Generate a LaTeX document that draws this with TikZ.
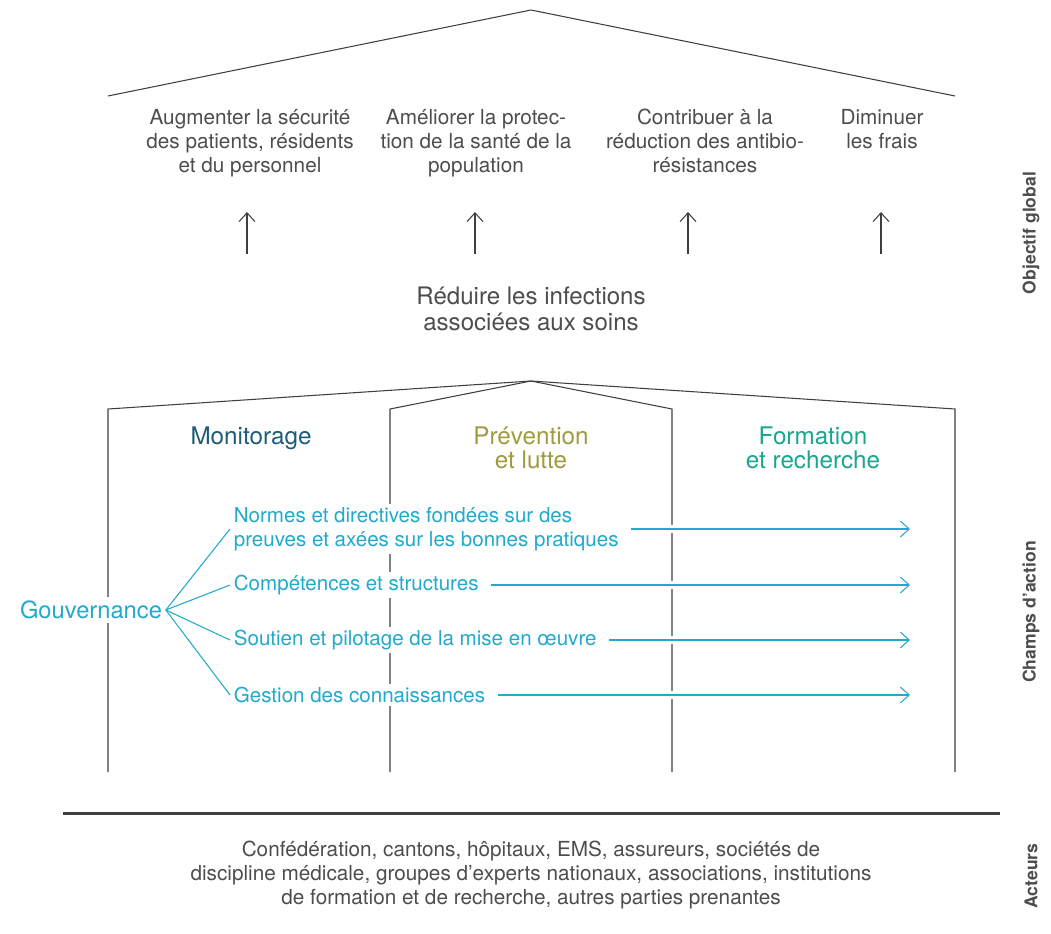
\documentclass[tikz,border=0pt]{standalone}
\usepackage{fontspec}
\setmainfont{TeX Gyre Heros}
\usetikzlibrary{arrows.meta}
\definecolor{txtgray}{HTML}{4D4D4D}
\definecolor{linegray}{HTML}{3F3F3F}
\definecolor{monblue}{HTML}{1D5C77}
\definecolor{prevolive}{HTML}{A29A3E}
\definecolor{formgreen}{HTML}{19A68E}
\definecolor{govcyan}{HTML}{22A9CB}

\begin{document}
\begin{tikzpicture}[x=0.02cm, y=-0.02cm,
	frame/.style={draw=linegray, line width=0.6pt},
	goal/.style={align=center, text=txtgray, anchor=north, inner sep=0pt, font=\fontsize{11.8}{13.7}\selectfont},
	head/.style={align=center, anchor=north, inner sep=0pt, font=\fontsize{13.8}{13.7}\selectfont},
	gov/.style={align=left, text=govcyan, fill=white, anchor=west, inner sep=2pt, font=\fontsize{11.7}{13.7}\selectfont},
	govline/.style={draw=govcyan, line width=0.6pt},
	govarrow/.style={govline, -{Straight Barb[length=5pt, width=9pt]}, shorten <=5pt, preaction={draw=white, line width=5pt}},
	uparrow/.style={frame, -{Straight Barb[length=5pt, width=9pt]}},
	side/.style={rotate=90, text=txtgray, font=\bfseries\fontsize{10}{12}\selectfont}]
	\fill[white] (0,0) rectangle (1051,933);
	\useasboundingbox (0,0) rectangle (1051,933);

	% objectif global
	\coordinate (TL)at(108, 96);
	\coordinate (TT)at(531, 10);
	\coordinate (TR)at(955, 96);
	\draw[frame] (TL) -- (TT) -- (TR);

	\node[goal] (G1)at(250, 109) {Augmenter la sécurité\\des patients, résidents\\et du personnel};
	\node[goal] (G2)at(476, 109) {Améliorer la protec-\\tion de la santé de la\\population};
	\node[goal] (G3)at(705, 109) {Contribuer à la\\réduction des antibio-\\résistances};
	\node[goal] (G4)at(882, 109) {Diminuer\\les frais};

	\foreach \x [count=\i] in {247, 475, 688, 881} {
		\coordinate (U\i a)at(\x, 254);
		\coordinate (U\i b)at(\x, 212);
		\draw[uparrow] (U\i a) -- (U\i b);
	}

	\node[head, text=txtgray, font=\fontsize{13.7}{14.3}\selectfont] (R)at(531, 287) {Réduire les infections\\associées aux soins};

	% champs d'action
	\coordinate (H)at(531, 381);
	\foreach \x [count=\i] in {108, 390, 672, 955} {
		\coordinate (C\i)at(\x, 409);
		\coordinate (D\i)at(\x, 772);
		\draw[frame] (H) -- (C\i) -- (D\i);
	}

	\node[head, text=monblue] (M)at(251, 426) {Monitorage};
	\node[head, text=prevolive] (P)at(531, 426) {Prévention\\et lutte};
	\node[head, text=formgreen] (F)at(813, 426) {Formation\\et recherche};

	\node[gov, anchor=center, font=\fontsize{13.5}{14}\selectfont] (Gov)at(91, 610) {Gouvernance};
	\node[gov] (N1)at(230, 529) {Normes et directives fondées sur des\\preuves et axées sur les bonnes pratiques};
	\node[gov] (N2)at(230, 585) {Compétences et structures};
	\node[gov] (N3)at(230, 640) {Soutien et pilotage de la mise en œuvre};
	\node[gov] (N4)at(230, 695) {Gestion des connaissances};

	\coordinate (E)at(910, 0);
	\foreach \n in {N1, N2, N3, N4} {
		\draw[govline] (Gov.east) -- (\n.west);
		\draw[govarrow] (\n.east) -- (\n.east -| E);
	}

	% acteurs
	\coordinate (B1)at(63, 813);
	\coordinate (B2)at(1000, 813);
	\draw[draw=linegray, line width=1.7pt] (B1) -- (B2);

	\node[goal] (A)at(531, 841) {Confédération, cantons, hôpitaux, EMS, assureurs, sociétés de\\discipline médicale, groupes d’experts nationaux, associations, institutions\\de formation et de recherche, autres parties prenantes};

	\node[side] (S1)at(1031, 233) {Objectif global};
	\node[side] (S2)at(1031, 612) {Champs d’action};
	\node[side] (S3)at(1031, 876) {Acteurs};
\end{tikzpicture}
\end{document}
